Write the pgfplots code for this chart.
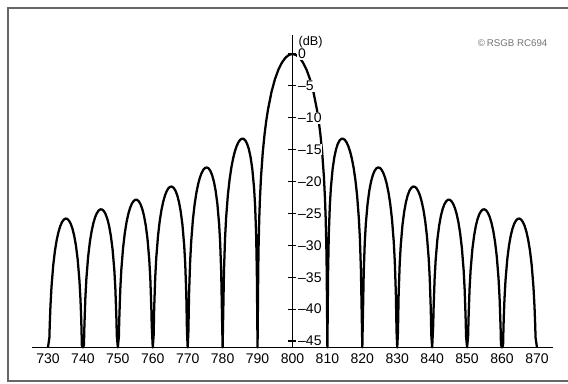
\documentclass[border=0pt]{standalone}
\usepackage{fontspec}
\setmainfont{Liberation Sans}
\usepackage{pgfplots}
\pgfplotsset{compat=1.18}
\begin{document}
\begin{tikzpicture}
\useasboundingbox (0,0) rectangle (426pt,287.25pt);
\draw[line width=1pt, black!60] (426pt,281.25pt) -- (6pt,281.25pt) -- (6pt,1.6pt) -- (426pt,1.6pt);
\node[black!55, font=\fontsize{7.3}{9}\selectfont] at (384.5pt,255pt) {\textcopyright\,RSGB RC694};
\begin{axis}[
  at={(24.2pt,26.7pt)}, anchor=south west,
  scale only axis, width=390.3pt, height=234.4pt,
  xmin=725.5, xmax=874.5, ymin=-46, ymax=3,
  axis x line=bottom, axis y line=none,
  axis line style={line width=1.2pt, -},
  xtick={730,740,...,870}, x tick style={draw=none},
  xticklabel style={font=\fontsize{10.5}{12}\selectfont, yshift=1pt},
  /pgf/number format/assume math mode=true,
  clip=false,
]
\addplot[black, line width=1.7pt, line join=round] table {
x y
730 -46
730.4 -44.46
730.5 -42.51
730.7 -39.60
731 -36.54
731.5 -33.13
732 -30.82
732.5 -29.15
733 -27.91
733.5 -27.00
734 -26.37
734.5 -25.98
735 -25.80
735.5 -25.84
736 -26.11
736.5 -26.60
737 -27.37
737.5 -28.47
738 -30.02
738.5 -32.19
739 -35.46
739.3 -38.44
739.5 -41.31
739.6 -43.22
739.7 -45.70
740 -46
740.3 -45.62
740.4 -43.12
740.7 -38.25
741 -35.18
741.5 -31.76
742 -29.44
742.5 -27.76
743 -26.51
743.5 -25.59
744 -24.95
744.5 -24.54
745 -24.35
745.5 -24.38
746 -24.63
746.5 -25.11
747 -25.87
747.5 -26.96
748 -28.50
748.5 -30.66
749 -33.92
749.3 -36.89
749.6 -41.66
749.7 -44.14
750 -46
750.3 -44.29
750.4 -41.78
750.7 -36.90
751 -33.82
751.5 -30.39
752 -28.05
752.5 -26.34
753 -25.08
753.5 -24.14
754 -23.48
754.5 -23.06
755 -22.85
755.5 -22.86
756 -23.10
756.5 -23.56
757 -24.30
757.5 -25.38
758 -26.89
758.5 -29.03
759 -32.28
759.3 -35.24
759.6 -40.00
759.7 -42.47
760 -46
760.25 -44.09
760.4 -39.98
760.7 -35.09
761 -31.99
761.5 -28.53
762 -26.16
762.5 -24.43
763 -23.14
763.5 -22.17
764 -21.49
764.5 -21.03
765 -20.80
765.5 -20.79
766 -20.99
766.5 -21.43
767 -22.14
767.5 -23.19
768 -24.68
768.5 -26.79
769 -30.01
769.3 -32.95
769.6 -37.70
769.8 -43.65
770 -46
770.2 -43.56
770.4 -37.49
770.7 -32.56
771 -29.44
771.5 -25.92
772 -23.51
772.5 -21.73
773 -20.38
773.5 -19.37
774 -18.64
774.5 -18.13
775 -17.85
775.5 -17.79
776 -17.94
776.5 -18.33
777 -19.00
777.5 -19.99
778 -21.43
778.5 -23.50
779 -26.66
779.3 -29.58
779.6 -34.29
779.8 -40.22
780 -46
780.2 -39.92
780.4 -33.83
780.7 -28.87
781 -25.72
781.5 -22.15
782 -19.67
782.5 -17.81
783 -16.39
783.5 -15.29
784 -14.46
784.5 -13.86
785 -13.47
785.5 -13.28
786 -13.30
786.5 -13.55
787 -14.06
787.5 -14.89
788 -16.15
788.5 -18.02
789 -20.97
789.3 -23.75
789.6 -28.32
789.8 -34.16
789.9 -40.09
790 -46
790.1 -39.91
790.2 -33.81
790.3 -30.21
790.5 -25.61
790.7 -22.54
791 -19.23
791.5 -15.39
792 -12.62
792.5 -10.45
793 -8.69
794 -5.94
795 -3.92
796 -2.42
797 -1.33
798 -0.58
799 -0.14
800 0
801 -0.14
802 -0.58
803 -1.33
804 -2.42
805 -3.92
806 -5.94
807 -8.69
807.5 -10.45
808 -12.62
808.5 -15.39
809 -19.23
809.3 -22.54
809.5 -25.61
809.7 -30.21
809.8 -33.81
809.9 -39.91
810 -46
810.1 -40.09
810.2 -34.16
810.4 -28.32
810.7 -23.75
811 -20.97
811.5 -18.02
812 -16.15
812.5 -14.89
813 -14.06
813.5 -13.55
814 -13.30
814.5 -13.28
815 -13.47
815.5 -13.86
816 -14.46
816.5 -15.29
817 -16.39
817.5 -17.81
818 -19.67
818.5 -22.15
819 -25.72
819.3 -28.87
819.6 -33.83
819.8 -39.92
820 -46
820.2 -40.22
820.4 -34.29
820.7 -29.58
821 -26.66
821.5 -23.50
822 -21.43
822.5 -19.99
823 -19.00
823.5 -18.33
824 -17.94
824.5 -17.79
825 -17.85
825.5 -18.13
826 -18.64
826.5 -19.37
827 -20.38
827.5 -21.73
828 -23.51
828.5 -25.92
829 -29.44
829.3 -32.56
829.6 -37.49
829.8 -43.56
830 -46
830.2 -43.65
830.4 -37.70
830.7 -32.95
831 -30.01
831.5 -26.79
832 -24.68
832.5 -23.19
833 -22.14
833.5 -21.43
834 -20.99
834.5 -20.79
835 -20.80
835.5 -21.03
836 -21.49
836.5 -22.17
837 -23.14
837.5 -24.43
838 -26.16
838.5 -28.53
839 -31.99
839.3 -35.09
839.6 -39.98
839.75 -44.09
840 -46
840.3 -42.47
840.4 -40.00
840.7 -35.24
841 -32.28
841.5 -29.03
842 -26.89
842.5 -25.38
843 -24.30
843.5 -23.56
844 -23.10
844.5 -22.86
845 -22.85
845.5 -23.06
846 -23.48
846.5 -24.14
847 -25.08
847.5 -26.34
848 -28.05
848.5 -30.39
849 -33.82
849.3 -36.90
849.6 -41.78
849.7 -44.29
850 -46
850.3 -44.14
850.4 -41.66
850.7 -36.89
851 -33.92
851.5 -30.66
852 -28.50
852.5 -26.96
853 -25.87
853.5 -25.11
854 -24.63
854.5 -24.38
855 -24.35
855.5 -24.54
856 -24.95
856.5 -25.59
857 -26.51
857.5 -27.76
858 -29.44
858.5 -31.76
859 -35.18
859.3 -38.25
859.6 -43.12
859.7 -45.62
860 -46
860.3 -45.70
860.4 -43.22
860.5 -41.31
860.7 -38.44
861 -35.46
861.5 -32.19
862 -30.02
862.5 -28.47
863 -27.37
863.5 -26.60
864 -26.11
864.5 -25.84
865 -25.80
865.5 -25.98
866 -26.37
866.5 -27.00
867 -27.91
867.5 -29.15
868 -30.82
868.5 -33.13
869 -36.54
869.3 -39.60
869.5 -42.51
869.6 -44.46
870 -46
};
\end{axis}
\begin{axis}[
  at={(219.35pt,26.7pt)}, anchor=south east,
  scale only axis, width=10pt, height=234.4pt,
  xmin=0, xmax=1, ymin=-46, ymax=3,
  axis x line=none, axis y line=right,
  axis line style={line width=1.2pt, -},
  ytick={-45,-40,...,0},
  yticklabels={--45,--40,--35,--30,--25,--20,--15,--10,--5,0},
  y tick style={line width=0.9pt, black},
  major tick length=6pt, tick align=center,
  yticklabel style={font=\fontsize{10.5}{12}\selectfont, anchor=west, xshift=0.5pt, fill=white, inner sep=0.6pt},
  clip=false,
]
\addplot[draw=none] coordinates {(0,0)};
\node[anchor=west, font=\fontsize{9.5}{11}\selectfont, inner sep=1pt] at (axis cs:1,1.9) {\hspace{3.5pt}(dB)};
\end{axis}
\end{tikzpicture}
\end{document}
